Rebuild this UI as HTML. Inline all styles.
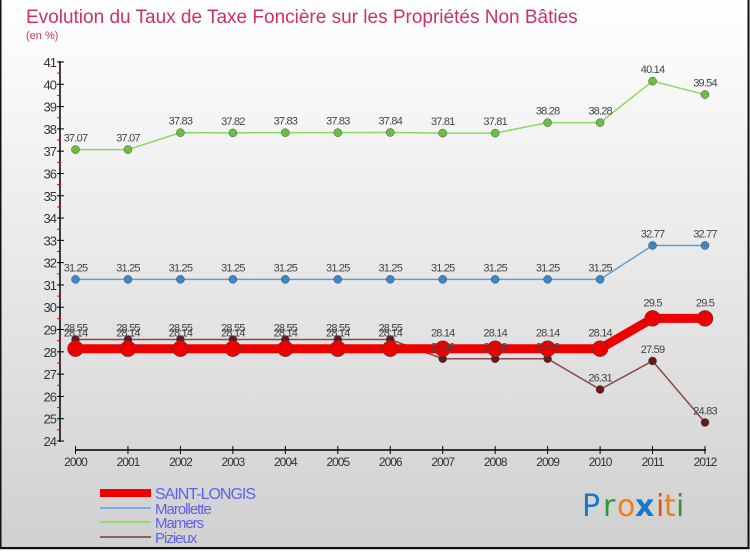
<!DOCTYPE html>
<html><head><meta charset="utf-8"><style>
body{margin:0;width:750px;height:550px;overflow:hidden;font-family:"Liberation Sans",sans-serif}
</style></head><body>
<svg id="c" width="750" height="550" xmlns="http://www.w3.org/2000/svg">
<defs><linearGradient id="bg" x1="0" y1="0" x2="0" y2="1"><stop offset="0" stop-color="#ffffff"/><stop offset="1" stop-color="#d0d0d0"/></linearGradient></defs>
<rect x="0" y="0" width="750" height="550" fill="url(#bg)"/>
<rect x="0.5" y="-2" width="748" height="550" fill="none" stroke="#111" stroke-width="2"/>
<text x="26" y="23" font-size="19" fill="#d0306a">Evolution du Taux de Taxe Foncière sur les Propriétés Non Bâties</text>
<text x="26" y="39" font-size="11" fill="#d0306a">(en %)</text>
<g id="axes"></g><g id="series"></g><g id="labels"></g><g id="legend"></g>
<g font-size="30" font-family="'DejaVu Sans',sans-serif">
<text x="582" y="516" fill="#1a78c8">P</text><text x="603" y="516" fill="#2a9a3a">r</text><text x="617" y="516" fill="#f08010">o</text><text x="635" y="516" fill="#1a78c8" font-weight="bold">x</text><text x="656" y="516" fill="#e05010">i</text><text x="664" y="516" fill="#f08010">t</text><text x="676" y="516" fill="#2a9a3a">i</text>
</g>
</svg>
<script>
const years=[2000,2001,2002,2003,2004,2005,2006,2007,2008,2009,2010,2011,2012];
const yTicks=[24,25,26,27,28,29,30,31,32,33,34,35,36,37,38,39,40,41];
const saintLongis=[28.14,28.14,28.14,28.14,28.14,28.14,28.14,28.14,28.14,28.14,28.14,29.5,29.5];
const marollette=[31.25,31.25,31.25,31.25,31.25,31.25,31.25,31.25,31.25,31.25,31.25,32.77,32.77];
const mamers=[37.07,37.07,37.83,37.82,37.83,37.83,37.84,37.81,37.81,38.28,38.28,40.14,39.54];
const pizieux=[28.55,28.55,28.55,28.55,28.55,28.55,28.55,27.69,27.69,27.69,26.31,27.59,24.83];
const NS="http://www.w3.org/2000/svg";
const X=i=>75.5+i*(705-75.5)/12;
const Y=v=>441-(v-24)*(441-62)/17;
function mk(t,a,p){const e=document.createElementNS(NS,t);for(const k in a)e.setAttribute(k,a[k]);p.appendChild(e);return e;}
const ax=document.getElementById('axes');
let e=mk('line',{x1:60,y1:61,x2:60,y2:442,stroke:'#000','stroke-width':1.5},ax);

yTicks.forEach(v=>{mk('line',{x1:57,y1:Y(v),x2:64,y2:Y(v),stroke:'#000'},ax);
 if(v<41)mk('line',{x1:57,y1:Y(v+0.5),x2:61,y2:Y(v+0.5),stroke:'#e00'},ax);
 const t=mk('text',{x:56,y:Y(v)+5,'font-size':13,fill:'#333','text-anchor':'end','letter-spacing':'-1'},ax);t.textContent=v;
 });
e=mk('line',{x1:75,y1:450,x2:706,y2:450,stroke:'#000','stroke-width':1.5},ax);

years.forEach((y,i)=>{mk('line',{x1:X(i),y1:446,x2:X(i),y2:454,stroke:'#000'},ax);
 const t=mk('text',{x:X(i),y:466,'font-size':12,fill:'#333','text-anchor':'middle','letter-spacing':'-1'},ax);t.textContent=y;
 });
const sg=document.getElementById('series');
const lb=document.getElementById('labels');
const defs=[[mamers,'#8ed860','#6cc040',1.5,4,'mamers'],[marollette,'#5aa0d8','#3a88c8',1.5,4,'marollette'],[pizieux,'#8a4848','#6a1818',1.5,4,'pizieux'],[saintLongis,'#ee0000','#ee0000',9,8,'saint-longis']];
defs.forEach(([d,lc,pc,w,r,n])=>{
 const g=mk('g',{},sg);
 mk('polyline',{points:d.map((v,i)=>X(i)+','+Y(v)).join(' '),fill:'none',stroke:lc,'stroke-width':w},g);
 d.forEach((v,i)=>{const c=mk('circle',{cx:X(i),cy:Y(v),r:r,fill:pc,stroke:'#444','stroke-width':0.5},g);
  
  const t=mk('text',{x:X(i),y:Y(v)-(n==='saint-longis'?12:8),'font-size':11,fill:'#444','text-anchor':'middle','letter-spacing':'-0.8'},lb);
  t.textContent=String(v);});
});
const lg=document.getElementById('legend');
[['SAINT-LONGIS','#ee0000',8,493,16],['Marollette','#7ab0d8',2,508,15],['Mamers','#98d870',2,522,15],['Pizieux','#906060',2,537,15]].forEach(([t,c,w,y,fs])=>{
 const g=mk('g',{},lg);
 mk('line',{x1:100,y1:y,x2:151,y2:y,stroke:c,'stroke-width':w},g);
 const tx=mk('text',{x:155,y:y+6,'font-size':fs,fill:'#6060f0','letter-spacing':'-1'},g);tx.textContent=t;
});
</script>
</body></html>
